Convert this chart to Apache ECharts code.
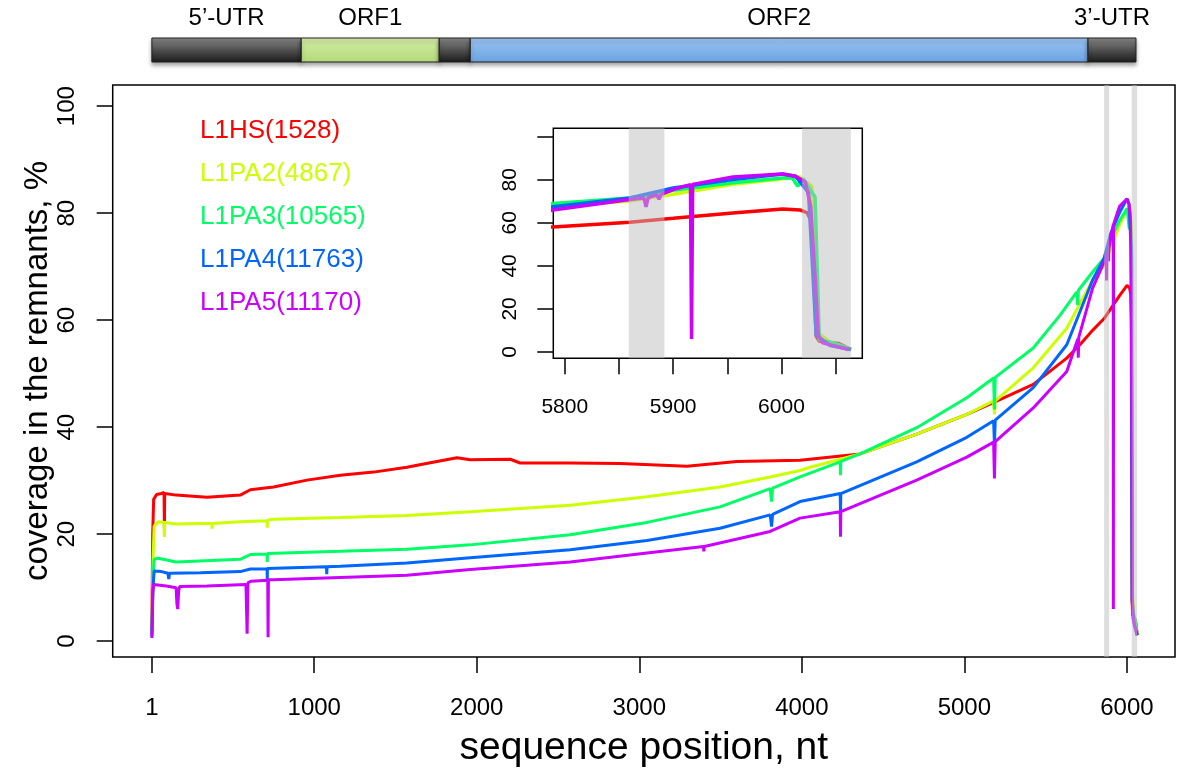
<!DOCTYPE html>
<html>
<head>
<meta charset="utf-8">
<script src="https://cdn.jsdelivr.net/npm/echarts@6/dist/echarts.min.js"></script>
<style>
  html, body { margin: 0; padding: 0; background: #fff; }
  #coverage { width: 1177px; height: 773px; }
</style>
</head>
<body>
<div id="coverage"></div>
<script>
const seriesNames = ['L1HS(1528)', 'L1PA2(4867)', 'L1PA3(10565)', 'L1PA4(11763)', 'L1PA5(11170)'];
const colorList = ['#FF0000', '#CCFF00', '#00FF66', '#0066FF', '#CC00FF'];

// [position, coverage %]
const l1hs = [[1, 2], [6, 20], [12, 26.5], [30, 27.4], [60, 27.6], [76, 27.8], [78, 21], [80, 27.6], [150, 27.3],
  [340, 26.9], [545, 27.3], [607, 28.3], [750, 28.8], [955, 30.1], [1160, 31.0], [1365, 31.6], [1570, 32.5],
  [1673, 33.1], [1878, 34.3], [1960, 33.9], [2206, 34.0], [2267, 33.3], [2575, 33.3], [2882, 33.2], [3293, 32.7],
  [3600, 33.6], [3989, 33.8], [4358, 35.0], [4707, 38.7], [5015, 42.4], [5178, 44.6], [5424, 48.0], [5630, 52.9],
  [5711, 55.4], [5789, 58.1], [5860, 60.3], [5900, 62.1], [5955, 64.6], [6001, 66.5], [6017, 66.0], [6024, 64.6],
  [6028, 60], [6032, 7.3], [6035, 5], [6053, 3.9], [6064, 1.1]];
const l1pa2 = [[1, 1.5], [8, 15], [15, 21.5], [40, 22.3], [76, 22.2], [78, 19.5], [80, 22.2], [150, 21.9],
  [300, 22.0], [371, 22.0], [372, 21.0], [373, 22.0], [545, 22.3], [710, 22.5], [711, 21.2], [712, 22.6],
  [750, 22.8], [1160, 23.1], [1570, 23.5], [1960, 24.2], [2575, 25.4], [3047, 27.0], [3497, 28.8], [3805, 30.7],
  [3989, 31.9], [4051, 32.5], [4358, 35.0], [4707, 38.7], [5015, 42.4], [5180, 44.9], [5185, 42.4], [5190, 44.9],
  [5424, 51.1], [5630, 58.5], [5789, 67.5], [5860, 70.2], [5900, 73.3], [5955, 77.9], [6001, 80.5], [6017, 81.4],
  [6028, 77], [6034, 8.7], [6045, 4.5], [6064, 1.3]];
const l1pa3 = [[1, 1], [8, 12], [15, 15.3], [40, 15.5], [150, 14.8], [545, 15.3], [607, 16.2], [710, 16.3],
  [711, 14.8], [712, 16.4], [1160, 16.8], [1570, 17.2], [1960, 18.0], [2575, 19.9], [3047, 22.2], [3497, 25.1],
  [3805, 28.5], [3814, 26.1], [3820, 28.6], [3989, 30.7], [4236, 33.5], [4238, 31.0], [4240, 33.6], [4358, 35.0],
  [4707, 39.9], [5015, 45.5], [5180, 49.2], [5185, 43.3], [5190, 49.3], [5424, 54.8], [5588, 60.9], [5692, 65.3],
  [5697, 62.8], [5702, 65.6], [5789, 69.0], [5860, 71.6], [5900, 75.2], [5955, 78.6], [6001, 80.9], [6010, 80.9],
  [6015, 77.0], [6020, 80.5], [6031, 72], [6035, 5.5], [6048, 4.3], [6064, 1.3]];
const l1pa4 = [[1, 1], [8, 10], [15, 13.1], [60, 13.0], [100, 12.7], [105, 11.6], [110, 12.7], [300, 12.8],
  [545, 13.0], [607, 13.5], [710, 13.5], [711, 11.6], [712, 13.6], [1075, 13.9], [1077, 12.5], [1079, 13.9],
  [1160, 14.0], [1570, 14.6], [1960, 15.6], [2575, 17.1], [3047, 18.8], [3497, 21.1], [3805, 23.6], [3814, 21.4],
  [3820, 23.7], [3989, 26.1], [4236, 27.6], [4238, 23.9], [4240, 27.6], [4707, 33.5], [5015, 38.1], [5180, 41.2],
  [5185, 36.9], [5190, 41.3], [5424, 47.4], [5630, 55.4], [5789, 67.5], [5860, 71.6], [5900, 76.2], [5955, 80.1],
  [6001, 82.7], [6013, 81.7], [6025, 74], [6032, 7.8], [6045, 3], [6064, 1.1]];
const l1pa5 = [[1, 0.6], [6, 9], [12, 10.6], [90, 10.3], [150, 10.0], [155, 7], [160, 6.0], [166, 9.5], [172, 10.2],
  [340, 10.3], [580, 10.6], [587, 1.4], [592, 10.9], [610, 11.2], [714, 11.4], [716, 0.75], [718, 11.5],
  [750, 11.5], [1160, 11.9], [1570, 12.3], [1960, 13.4], [2575, 14.8], [3047, 16.5], [3395, 17.7], [3397, 16.8],
  [3400, 17.7], [3805, 20.5], [3989, 23.0], [4236, 24.2], [4238, 19.5], [4240, 24.2], [4707, 30.1], [5015, 34.4],
  [5180, 37.2], [5185, 30.4], [5190, 37.3], [5424, 43.6], [5630, 50.4], [5698, 56.5], [5701, 53], [5704, 56.8],
  [5789, 66.0], [5860, 70.9], [5873, 71.6], [5875, 67.4], [5877, 71.8], [5885, 73.0], [5887, 71.0], [5889, 73.3],
  [5900, 75.5], [5916, 77.8], [5917, 6.0], [5918, 77.9], [5955, 81.3], [6001, 82.7], [6013, 81.7], [6022, 79],
  [6027, 67.7], [6031, 35], [6034, 7.8], [6038, 4.2], [6062, 1.1]];
const seriesData = [l1hs, l1pa2, l1pa3, l1pa4, l1pa5];

const xTicks = [1, 1000, 2000, 3000, 4000, 5000, 6000];
const yTicks = [0, 20, 40, 60, 80, 100];
const insetXTicks = [5800, 5850, 5900, 5950, 6000, 6050];
const insetXLabels = [5800, 5900, 6000];
const insetYLabels = [0, 20, 40, 60, 80];

// shaded regions [start, end]
const mainBands = [[5860, 5891], [6030, 6063]];
const insetBands = [[5859, 5892], [6019, 6064]];

// L1 element structure
const geneLabels = ['5\u2019-UTR', 'ORF1', '', 'ORF2', '3\u2019-UTR'];
const geneSpans = [[1, 920], [920, 1769], [1769, 1960], [1960, 5761], [5761, 6056]];
const geneKinds = ['utr', 'orf1', 'utr', 'orf2', 'utr'];

const fontFamily = '"Liberation Sans", Arial, Helvetica, sans-serif';
const plain = v => String(v);

const chartDom = document.getElementById('coverage');
const myChart = echarts.init(chartDom);
let option;

const geneFills = {
  utr: new echarts.graphic.LinearGradient(0, 0, 0, 1, [
    {offset: 0, color: '#8a8a8a'}, {offset: 0.5, color: '#505050'}, {offset: 1, color: '#1a1a1a'}]),
  orf1: new echarts.graphic.LinearGradient(0, 0, 0, 1, [
    {offset: 0, color: '#d4eca8'}, {offset: 1, color: '#b2da78'}]),
  orf2: new echarts.graphic.LinearGradient(0, 0, 0, 1, [
    {offset: 0, color: '#9cc4f0'}, {offset: 1, color: '#6aa2e2'}])
};

function bandItem(params, api) {
  const p0 = api.coord([api.value(0), 0]);
  const p1 = api.coord([api.value(1), 0]);
  const cs = params.coordSys;
  return {
    type: 'rect',
    shape: {x: p0[0], y: cs.y, width: p1[0] - p0[0], height: cs.height},
    style: {fill: 'rgba(190,190,190,0.5)'}
  };
}

function geneItem(params, api) {
  const a = api.coord([api.value(0), 0]);
  const b = api.coord([api.value(1), 0]);
  const cs = params.coordSys;
  const i = params.dataIndex;
  return {
    type: 'group',
    children: [
      {
        type: 'rect',
        shape: {x: a[0], y: cs.y, width: b[0] - a[0], height: cs.height},
        style: {fill: geneFills[geneKinds[i]], stroke: '#222', lineWidth: 1,
          shadowBlur: 4, shadowOffsetY: 3, shadowColor: 'rgba(0,0,0,0.35)'}
      },
      {
        type: 'text',
        style: {text: geneLabels[i], x: (a[0] + b[0]) / 2, y: cs.y - 8, align: 'center',
          verticalAlign: 'bottom', fontSize: 24, fontFamily: fontFamily, fill: '#000'}
      }
    ]
  };
}

const lineSeries = [];
seriesData.forEach((d, i) => {
  lineSeries.push({
    name: seriesNames[i], type: 'line', xAxisIndex: 0, yAxisIndex: 0, data: d,
    symbol: 'none', clip: true, color: colorList[i],
    lineStyle: {width: 3, color: colorList[i]}, z: 2 + i * 0.01
  });
});
seriesData.forEach((d, i) => {
  lineSeries.push({
    name: seriesNames[i], type: 'line', xAxisIndex: 1, yAxisIndex: 1, data: d,
    symbol: 'none', clip: true, color: colorList[i],
    lineStyle: {width: 3.5, color: colorList[i]}, z: 2 + i * 0.01
  });
});

const tickStyle = {show: true, inside: false, length: 16, lineStyle: {color: '#000', width: 1.5}};
const noLine = {show: false, onZero: false};

option = {
  backgroundColor: '#fff',
  animation: false,
  textStyle: {fontFamily: fontFamily},
  legend: {
    orient: 'vertical',
    left: 190,
    top: 113,
    icon: 'none',
    itemWidth: 0,
    itemHeight: 20,
    itemGap: 17,
    selectedMode: false,
    data: seriesNames.map((n, i) => ({name: n, textStyle: {color: colorList[i], fontSize: 26, fontFamily: fontFamily}}))
  },
  grid: [
    {left: 112.7, top: 85, width: 1062.3, height: 576.7, show: true, borderColor: '#000', borderWidth: 1.5, backgroundColor: '#fff'},
    {left: 553.3, top: 128.3, width: 309, height: 230, show: true, borderColor: '#000', borderWidth: 1.5, backgroundColor: '#fff'},
    {left: 112.7, top: 38, width: 1062.3, height: 24}
  ],
  xAxis: [
    {
      gridIndex: 0, type: 'value', min: -240, max: 6296,
      name: 'sequence position, nt', nameLocation: 'middle', nameGap: 72,
      nameTextStyle: {fontSize: 39, color: '#000'},
      axisLine: noLine, splitLine: {show: false},
      axisTick: Object.assign({customValues: xTicks}, tickStyle),
      axisLabel: {customValues: xTicks, fontSize: 24, color: '#000', margin: 39, formatter: plain}
    },
    {
      gridIndex: 1, type: 'value', min: 5789.4, max: 6074.6,
      axisLine: noLine, splitLine: {show: false},
      axisTick: Object.assign({customValues: insetXTicks}, tickStyle),
      axisLabel: {customValues: insetXLabels, fontSize: 21, color: '#000', margin: 38, formatter: plain}
    },
    {gridIndex: 2, type: 'value', min: -240, max: 6296, show: false}
  ],
  yAxis: [
    {
      gridIndex: 0, type: 'value', min: -2.96, max: 103.96,
      name: 'coverage in the remnants, %', nameLocation: 'middle', nameGap: 58, nameRotate: 90,
      nameMoveOverlap: false,
      nameTextStyle: {fontSize: 33, color: '#000'},
      axisLine: noLine, splitLine: {show: false},
      axisTick: Object.assign({customValues: yTicks}, tickStyle),
      axisLabel: {customValues: yTicks, fontSize: 24, color: '#000', rotate: 90, margin: 33, formatter: plain}
    },
    {
      gridIndex: 1, type: 'value', min: -2.96, max: 103.96,
      axisLine: noLine, splitLine: {show: false},
      axisTick: Object.assign({customValues: yTicks}, tickStyle),
      axisLabel: {customValues: insetYLabels, fontSize: 21, color: '#000', rotate: 90, margin: 33, formatter: plain}
    },
    {gridIndex: 2, type: 'value', min: 0, max: 1, show: false}
  ],
  series: lineSeries.concat([
    {type: 'custom', xAxisIndex: 0, yAxisIndex: 0, data: mainBands, renderItem: bandItem, encode: {x: [0, 1]}, z: 5, silent: true},
    {type: 'custom', xAxisIndex: 1, yAxisIndex: 1, data: insetBands, renderItem: bandItem, encode: {x: [0, 1]}, z: 5, silent: true},
    {type: 'custom', xAxisIndex: 2, yAxisIndex: 2, data: geneSpans, renderItem: geneItem, encode: {x: [0, 1]}, z: 3, silent: true}
  ])
};

option && myChart.setOption(option);
</script>
</body>
</html>
